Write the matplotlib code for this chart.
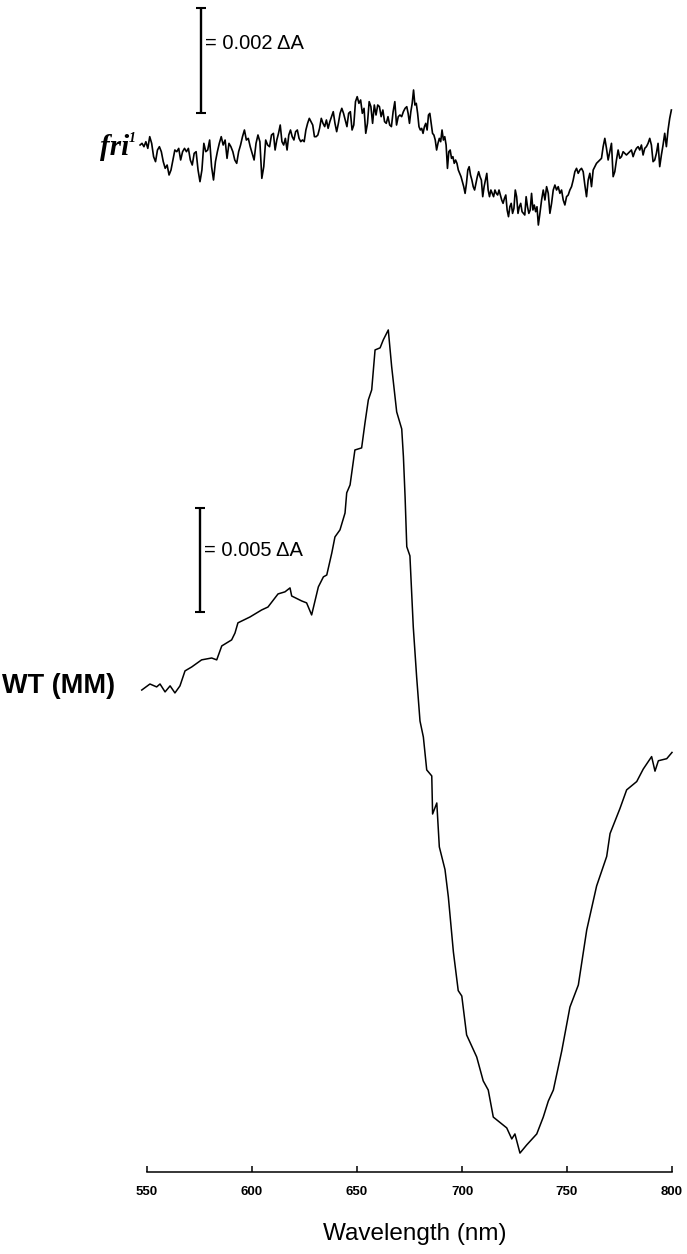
import numpy as np
import matplotlib
matplotlib.use('Agg')
import matplotlib.pyplot as plt

plt.rcParams['font.family'] = ['Liberation Sans', 'DejaVu Sans']

# WT (MM) difference spectrum: wavelength (nm) and delta A (units of 0.001)
wt_nm = [547.5, 551.4, 554.6, 556.2, 558.6, 561.0, 563.3, 565.7, 568.1, 571.3,
         576.0, 580.8, 583.2, 585.6, 590.3, 591.9, 593.3, 599.0, 604.6, 607.6,
         612.4, 615.7, 618.1, 618.9, 623.7, 626.0, 628.4, 631.6, 634.0, 635.6,
         638.0, 639.5, 641.9, 644.3, 645.1, 646.7, 649.0, 652.2, 653.8, 655.4,
         657.0, 658.6, 661.0, 662.5, 664.9, 666.5, 668.9, 671.3, 672.1, 672.9,
         673.7, 675.2, 676.8, 678.4, 680.0, 681.6, 683.2, 685.6, 686.0, 688.0,
         689.2, 691.9, 693.5, 695.9, 698.2, 699.9, 702.2, 707.0, 710.1, 712.5,
         714.9, 721.3, 723.7, 725.2, 727.6, 730.8, 735.6, 738.7, 741.1, 743.5,
         747.5, 751.4, 755.4, 759.4, 764.1, 768.9, 770.5, 775.2, 778.4, 783.2,
         786.3, 790.3, 791.9, 793.5, 797.5, 800.0]
wt_dA = [-0.10, 0.19, 0.05, 0.19, -0.19, 0.10, -0.24, 0.10, 0.82, 1.01,
         1.35, 1.44, 1.35, 2.02, 2.31, 2.64, 3.13, 3.41, 3.75, 3.89,
         4.52, 4.62, 4.81, 4.42, 4.18, 4.09, 3.51, 4.86, 5.34, 5.43,
         6.49, 7.26, 7.60, 8.41, 9.38, 9.76, 11.44, 11.54, 12.74, 13.85,
         14.33, 16.25, 16.35, 16.73, 17.21, 15.45, 13.27, 12.45, 11.12, 9.18,
         6.79, 6.35, 2.93, 0.53, -1.59, -2.36, -3.94, -4.23, -6.06, -5.53,
         -7.64, -8.73, -10.05, -12.69, -14.55, -14.81, -16.68, -17.74, -18.89, -19.33,
         -20.63, -21.15, -21.68, -21.44, -22.36, -21.97, -21.44, -20.63, -19.86, -19.33,
         -17.45, -15.34, -14.28, -11.63, -9.52, -8.10, -7.00, -5.80, -4.90, -4.50,
         -3.90, -3.30, -4.00, -3.50, -3.40, -3.10]

# fri1 difference spectrum, delta A in units of 0.0001, four stretches
fri_a = [0.95, 1.27, 0.63, 1.58, 0.31, 2.54, 1.27, -1.27, -2.22, 0.0,
         0.63, -0.32, -2.22, -3.49, -2.86, -4.76, -3.81, -1.90, 0.0, -0.32,
         0.31, -1.90, -0.32, 0.31, -0.32, 0.31, -1.90, -2.86, -0.63, -0.32,
         -3.81, -6.03, -3.81, 1.27, -0.32, 0.0, 1.90, -3.17, -5.71, -2.22,
         -0.32, 1.27, 2.54, 0.95, 1.90, -1.59, 1.27, 0.63, -0.32, -1.90,
         -2.54, -0.32, 0.95, 2.54, 3.81, 1.90, 2.22, 0.63, -0.63, -1.90,
         1.27, 2.86, 1.58, -5.40, -3.17, 1.90, 0.95, 0.63, 2.86, 3.17]
fri_b = [0.0, 1.91, 3.18, 4.76, 1.59, 0.95, 2.22, 0.0, 2.86, 3.81,
         2.54, 1.91, 3.49, 3.81, 2.22, 1.59, 1.91, 1.59, 3.81, 5.08,
         6.03, 5.40, 4.76, 2.54, 2.54, 2.86, 4.13, 6.03, 5.08, 4.45,
         5.72, 4.13, 5.40, 6.35, 7.30, 5.08, 3.49, 5.08, 6.99, 7.94,
         6.99, 5.72, 4.45, 6.99, 7.30, 3.81, 4.76, 9.21, 10.16, 8.89,
         9.53, 6.99, 7.94, 3.18, 5.08, 9.21, 8.26, 5.08, 8.57, 6.67,
         8.57, 8.26, 6.35, 7.62, 5.40, 5.08, 6.35, 4.76, 4.45, 7.30,
         9.21, 4.76, 6.35, 6.67, 6.35, 7.30, 7.94]
fri_c = [8.25, 6.98, 5.08, 7.30, 8.89, 11.43, 8.57, 8.89, 6.98, 4.44,
         3.81, 4.12, 3.17, 4.44, 5.08, 3.81, 6.66, 6.98, 5.08, 3.17,
         2.85, 1.90, 0.0, 1.27, 2.22, 1.58, 3.81, 1.90, 2.54, 0.95,
         -3.50, -0.32, 0.0, -1.59, -1.27, -2.54, -1.91, -2.54, -3.81, -4.45,
         -5.08, -6.04, -6.99, -8.26, -6.35, -3.81, -3.18, -4.77, -5.72, -6.99,
         -7.62, -6.35, -5.08, -4.13, -5.08, -5.72, -8.89, -6.99, -5.72, -4.45,
         -7.62, -8.89, -7.62, -8.26, -8.89, -7.62, -8.26, -8.57, -7.62, -8.57,
         -9.53, -10.16, -9.21, -8.57, -11.43, -12.70, -10.80, -10.16, -12.07, -11.11,
         -7.62, -8.89, -12.07, -10.80, -10.16, -11.75, -12.07, -12.38, -8.89, -10.80,
         -12.07, -11.43, -8.26, -11.43, -10.48, -11.75, -10.80, -14.29, -12.38]
fri_d = [-9.52, -7.62, -9.52, -6.98, -8.25, -12.06, -10.16, -7.62, -6.67, -7.62,
         -6.98, -8.25, -7.62, -9.52, -10.47, -8.89, -8.57, -7.62, -6.98, -5.71,
         -4.13, -3.49, -4.44, -3.81, -3.49, -4.13, -6.67, -8.89, -5.71, -4.44,
         -6.98, -3.81, -3.17, -2.54, -2.22, -1.90, -1.59, 0.64, 2.22, 0.32,
         -1.90, -0.32, 1.27, -5.08, -4.13, -1.90, 0.0, -1.59, -1.27, -0.32,
         -0.63, -0.95, -0.63, -0.32, 0.0, -1.27, -0.32, 0.32, 0.64, 0.0,
         0.95, -0.95, 0.32, 0.64, 1.27, 2.22, 0.95, -2.22, -1.90, -0.63,
         1.27, -3.17, -0.95, 0.95, 3.18, 0.64, 3.81, 6.03, 7.62]
fri_spans = [(546.7, 610.2), (611.0, 672.9), (673.7, 737.0), (737.9, 799.7)]

ticks = [550, 600, 650, 700, 750, 800]
wt_bar = 5      # 0.005 delta A
fri_bar = 20    # 0.002 delta A

fri_nm = np.concatenate([np.linspace(a, b, len(v)) for (a, b), v in
                         zip(fri_spans, [fri_a, fri_b, fri_c, fri_d])])
fri_dA = np.concatenate([fri_a, fri_b, fri_c, fri_d])

W, H = 687, 1254
fig = plt.figure(figsize=(W / 100, H / 100), dpi=100)

# lower trace with the wavelength axis
ax = fig.add_axes([147 / W, (H - 1172) / H, 525 / W, 872 / H])
ax.plot(wt_nm, wt_dA, color='black', lw=1.1, clip_on=False)
ax.set_xlim(550, 800)
ax.set_ylim(-23.27, 18.65)
for s in ['top', 'left', 'right']:
    ax.spines[s].set_visible(False)
ax.spines['bottom'].set_linewidth(1.1)
ax.set_yticks([])
ax.set_xticks(ticks)
ax.tick_params(axis='x', direction='in', length=4.5, width=1.1, pad=10, labelsize=9.5)
for lab in ax.get_xticklabels():
    lab.set_fontweight('bold')
ax.patch.set_alpha(0)

ax.errorbar(575.2, 3.65 + wt_bar / 2, yerr=wt_bar / 2, fmt='none', ecolor='black',
            elinewidth=1.7, capsize=3.5, capthick=1.5, clip_on=False)
ax.text(577.2, 6.59, '= 0.005 \u0394A', fontsize=14.5, va='center', ha='left')

# upper trace
ax2 = fig.add_axes([147 / W, (H - 260) / H, 525 / W, 260 / H])
ax2.plot(fri_nm, fri_dA, color='black', lw=1.2, clip_on=False)
ax2.set_xlim(550, 800)
ax2.set_ylim(-20.95, 28.57)
ax2.axis('off')
ax2.errorbar(575.7, 7.05 + fri_bar / 2, yerr=fri_bar / 2, fmt='none', ecolor='black',
             elinewidth=1.7, capsize=3.5, capthick=1.5, clip_on=False)
ax2.text(577.7, 20.2, '= 0.002 \u0394A', fontsize=14.5, va='center', ha='left')

# trace names and axis title
fig.text(100 / W, 1 - 155 / H, 'fri', fontsize=21, family=['Liberation Serif'],
         style='italic', weight='bold', va='baseline')
fig.text(129 / W, 1 - 142 / H, '1', fontsize=10, family=['Liberation Serif'],
         style='italic', weight='bold', va='baseline')
fig.text(2 / W, 1 - 686 / H, 'WT (MM)', fontsize=19.5, weight='bold', va='center')
fig.text(415 / W, 1 - 1234 / H, 'Wavelength (nm)', fontsize=17.5, ha='center', va='center')

fig.savefig('out.png', dpi=100)
